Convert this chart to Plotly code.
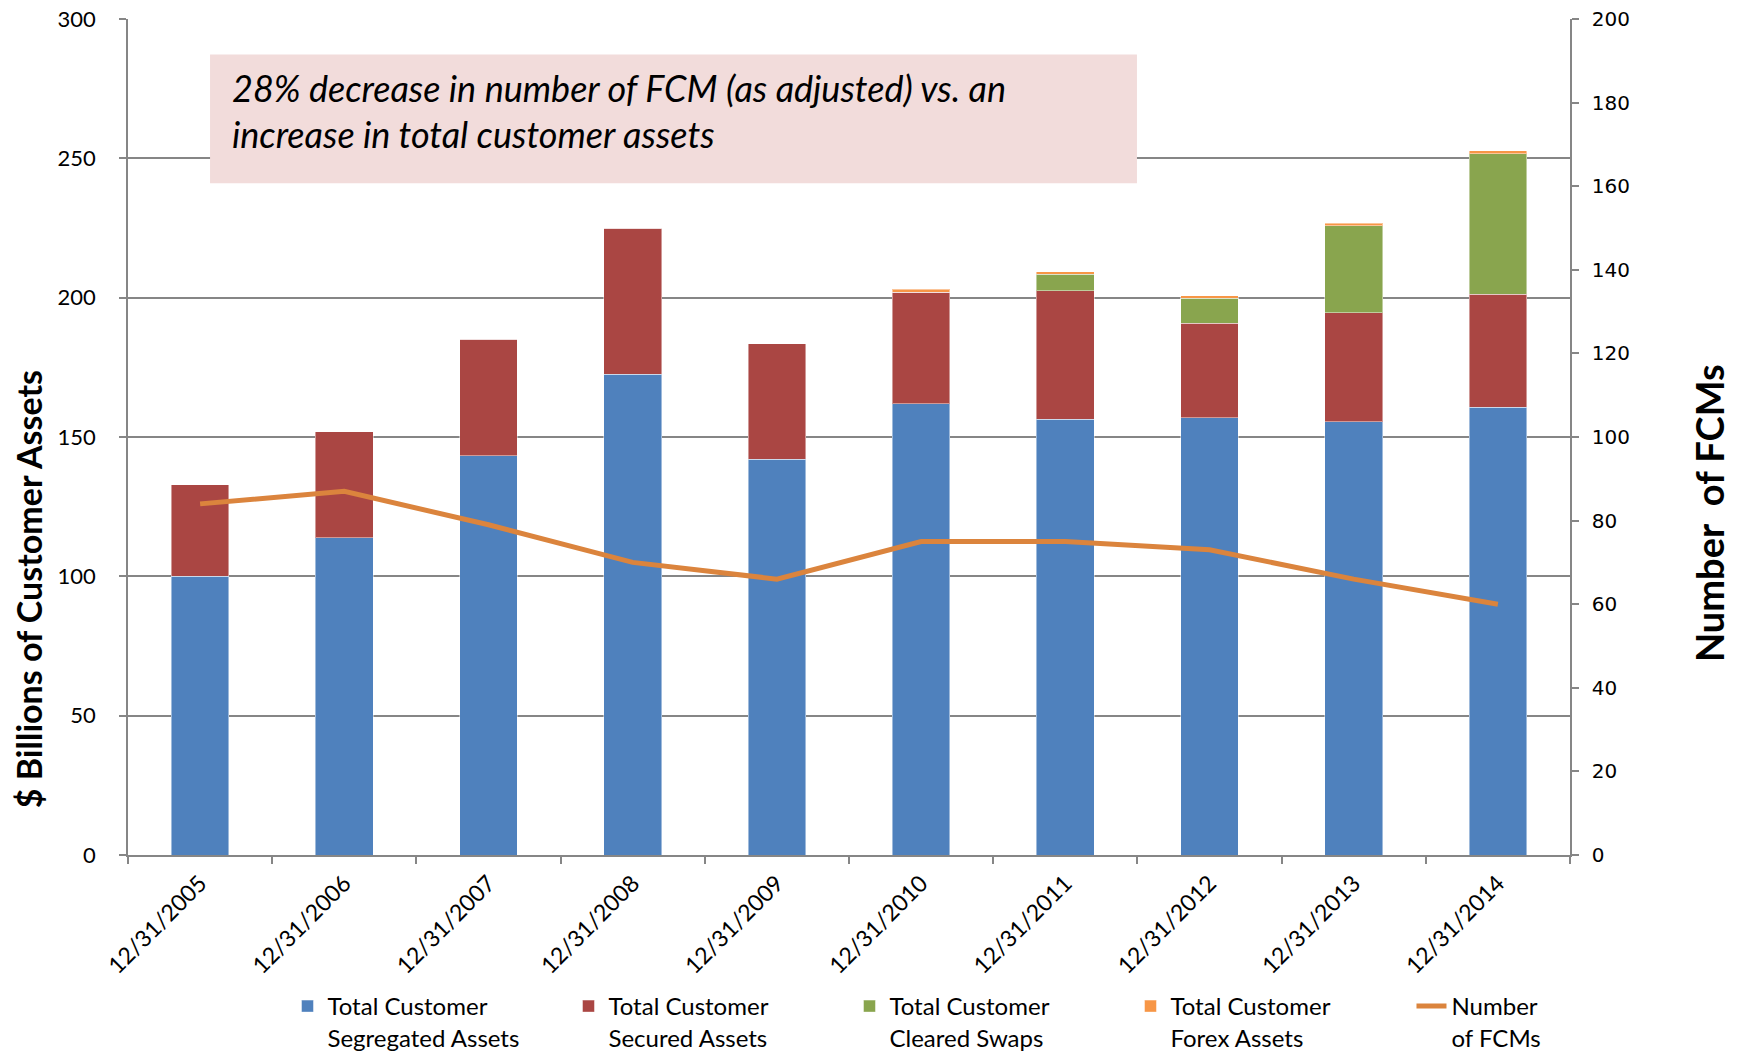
import plotly.graph_objects as go

# dados
datas = ["12/31/2005", "12/31/2006", "12/31/2007", "12/31/2008", "12/31/2009",
         "12/31/2010", "12/31/2011", "12/31/2012", "12/31/2013", "12/31/2014"]
segregados = [100.1, 113.8, 143.2, 172.5, 142.0, 162.0, 156.3, 156.9, 155.5, 160.6]
garantidos = [32.8, 38.1, 41.8, 52.4, 41.4, 40.0, 46.1, 34.0, 39.1, 40.7]
swaps = [0, 0, 0, 0, 0, 0, 6.0, 8.9, 31.2, 50.4]
forex = [0, 0, 0, 0, 0, 1.1, 0.9, 0.9, 0.9, 1.0]
num_fcms = [84, 87, 79, 70, 66, 75, 75, 73, 66, 60]

nomes = [
    "Total Customer<br>Segregated Assets",
    "Total Customer<br>Secured Assets",
    "Total Customer<br>Cleared Swaps",
    "Total Customer<br>Forex Assets",
    "Number<br>of FCMs",
]
cores = ["#4F81BD", "#AA4643", "#89A54E", "#F79646", "#DB843D"]

FONTE = "Lato"
CINZA = "#868686"

fig = go.Figure()
for serie, nome, cor in zip([segregados, garantidos, swaps, forex], nomes[:4], cores[:4]):
    fig.add_trace(
        go.Bar(
            x=datas,
            y=serie,
            name=nome,
            marker=dict(color=cor, line=dict(color="rgba(255,255,255,0.45)", width=1)),
        )
    )

fig.add_trace(
    go.Scatter(
        x=datas,
        y=num_fcms,
        name=nomes[4],
        mode="lines",
        line=dict(color=cores[4], width=5),
        yaxis="y2",
    )
)

# caixa de texto
fig.add_shape(
    type="rect", xref="paper", yref="paper",
    x0=0.0569, x1=0.6997, y0=0.8034, y1=0.9575,
    fillcolor="#F2DCDB", line=dict(width=0), layer="above",
)
for texto, y in [("28% decrease in number of FCM (as adjusted) vs. an", 0.9175),
                 ("increase in total customer assets", 0.8630)]:
    fig.add_annotation(
        x=0.0708, y=y, xref="paper", yref="paper",
        xanchor="left", yanchor="middle", showarrow=False,
        text=f"<i>{texto}</i>",
        font=dict(family=FONTE, size=36, color="black"),
    )

# títulos dos eixos
fig.add_annotation(
    x=-0.0693, y=0.318, xref="paper", yref="paper", textangle=-90,
    xanchor="center", yanchor="middle",
    showarrow=False, text="<b>$ Billions of Customer Assets</b>",
    font=dict(family=FONTE, size=34, color="black"),
)
fig.add_annotation(
    x=1.0964, y=0.409, xref="paper", yref="paper", textangle=-90,
    xanchor="center", yanchor="middle",
    showarrow=False, text="<b>Number  of FCMs</b>",
    font=dict(family=FONTE, size=38, color="black"),
)

eixo = dict(
    ticks="outside",
    ticklen=7,
    tickcolor=CINZA,
    tickwidth=1.5,
    showline=True,
    linecolor=CINZA,
    linewidth=1.5,
    automargin=False,
    ticklabeloverflow="allow",
)

fig.update_layout(
    width=1743,
    height=1060,
    barmode="stack",
    bargap=0.6,
    plot_bgcolor="white",
    paper_bgcolor="white",
    margin=dict(l=128, r=173, t=19, b=205),
    font=dict(family=FONTE, size=22, color="black"),
    xaxis=dict(
        eixo,
        type="category",
        tickangle=-45,
        tickson="boundaries",
        ticklabelstandoff=4,
        tickfont=dict(size=23),
    ),
    yaxis=dict(
        eixo,
        range=[0, 300],
        dtick=50,
        showgrid=True,
        gridcolor=CINZA,
        gridwidth=1.5,
        zeroline=False,
        ticklabelstandoff=19,
        tickfont=dict(size=22),
    ),
    yaxis2=dict(
        eixo,
        range=[0, 200],
        dtick=20,
        overlaying="y",
        side="right",
        showgrid=False,
        zeroline=False,
        ticklabelstandoff=9,
        tickfont=dict(family="DejaVu Sans", size=20),
    ),
    legend=dict(
        orientation="h",
        x=0.1106,
        xref="paper",
        y=0.0717,
        yref="container",
        xanchor="left",
        yanchor="top",
        traceorder="normal",
        valign="top",
        entrywidth=236,
        font=dict(size=24),
    ),
    showlegend=True,
)

# sem a margem padrão do body, a figura ocupa a janela inteira
fig.write_html(
    "out.html",
    config={"displayModeBar": False},
    post_script="document.body.style.margin = '0';",
)
